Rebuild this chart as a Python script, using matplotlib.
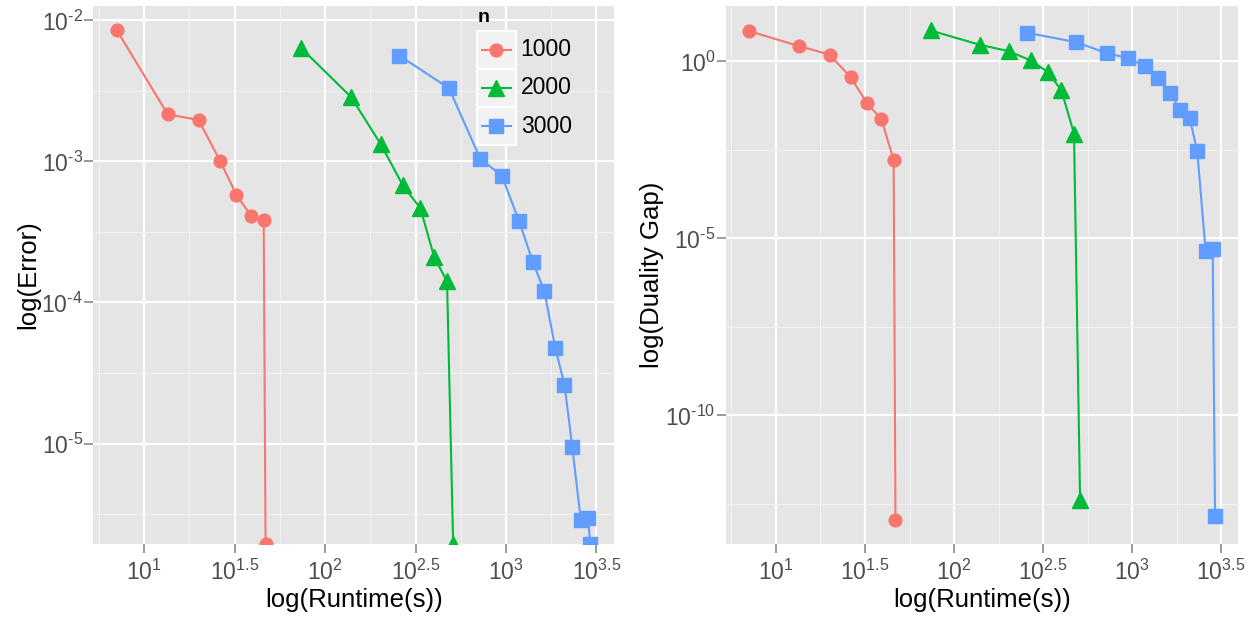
import numpy as np
import matplotlib
matplotlib.use('Agg')
import matplotlib.pyplot as plt
from matplotlib.ticker import FixedLocator, FixedFormatter, NullFormatter
from matplotlib.lines import Line2D
from matplotlib.patches import Rectangle

plt.rcParams['font.family'] = ['Liberation Sans', 'DejaVu Sans']
plt.rcParams['mathtext.fontset'] = 'custom'
plt.rcParams['mathtext.rm'] = 'Liberation Sans'
plt.rcParams['mathtext.it'] = 'Liberation Sans:italic'
plt.rcParams['mathtext.bf'] = 'Liberation Sans:bold'

# ---------------- data ----------------
groups = ['1000', '2000', '3000']

runtime_1000 = [7.08, 13.5, 20.0, 26.3, 32.4, 39.1, 45.8, 46.9]
runtime_2000 = [73.8, 139.3, 202.8, 269.2, 336.5, 400.9, 472.1, 510.5]
runtime_3000 = [257, 484, 721, 948, 1180, 1406, 1629, 1871, 2104, 2323, 2588, 2838, 2924]

# error 0 -> log(-Inf), drawn at the panel edge (as ggplot does)
error_1000 = [8.49e-3, 2.16e-3, 1.97e-3, 1.007e-3, 5.79e-4, 4.09e-4, 3.83e-4, 0.0]
error_2000 = [6.37e-3, 2.86e-3, 1.33e-3, 6.76e-4, 4.65e-4, 2.10e-4, 1.41e-4, 0.0]
error_3000 = [5.64e-3, 3.30e-3, 1.045e-3, 7.91e-4, 3.79e-4, 1.94e-4, 1.20e-4,
              4.78e-5, 2.62e-5, 9.48e-6, 2.89e-6, 2.95e-6, 0.0]

gap_1000 = [7.14, 2.70, 1.55, 0.354, 0.0667, 0.0232, 1.65e-3, 1.15e-13]
gap_2000 = [7.48, 2.95, 1.95, 1.07, 0.50, 0.152, 9.14e-3, 4.17e-13]
gap_3000 = [6.44, 3.50, 1.71, 1.24, 0.738, 0.339, 0.128, 0.0434, 0.0253,
            2.96e-3, 4.50e-6, 4.90e-6, 1.48e-13]

x_tick_exps = [1, 1.5, 2, 2.5, 3, 3.5]
err_tick_exps = [-2, -3, -4, -5]
gap_tick_exps = [0, -5, -10]

x_title = 'log(Runtime(s))'
err_title = 'log(Error)'
gap_title = 'log(Duality Gap)'
legend_title = 'n'

# ---------------- style ----------------
colors = ['#F8766D', '#00BA38', '#619CFF']
markers = ['o', '^', 's']
msizes = [9.2, 11.0, 9.8]

runtimes = [runtime_1000, runtime_2000, runtime_3000]
errors = [error_1000, error_2000, error_3000]
gaps = [gap_1000, gap_2000, gap_3000]

W, H = 1252, 619
fig = plt.figure(figsize=(W / 100, H / 100), dpi=100)
fig.patch.set_facecolor('white')


def px_box(x0, y0, x1, y1):
    return [x0 / W, 1 - y1 / H, (x1 - x0) / W, (y1 - y0) / H]


def gg_limits(vals):
    lv = np.log10([v for v in vals if v > 0])
    lo, hi = lv.min(), lv.max()
    pad = 0.05 * (hi - lo)
    return lo - pad, hi + pad


def fmt(e):
    s = '%g' % e
    if s.startswith('-'):
        s = r'\text{-}' + s[1:]
    return r'$\mathregular{10^{%s}}$' % s


def style_axes(ax, xlim, ylim, xt, yt, xminor, yminor, ylabel):
    ax.set_xscale('log')
    ax.set_yscale('log')
    ax.set_xlim(10 ** xlim[0], 10 ** xlim[1])
    ax.set_ylim(10 ** ylim[0], 10 ** ylim[1])
    ax.set_facecolor('#E5E5E5')
    for s in ax.spines.values():
        s.set_visible(False)
    ax.xaxis.set_major_locator(FixedLocator([10 ** e for e in xt]))
    ax.xaxis.set_major_formatter(FixedFormatter([fmt(e) for e in xt]))
    ax.yaxis.set_major_locator(FixedLocator([10 ** e for e in yt]))
    ax.yaxis.set_major_formatter(FixedFormatter([fmt(e) for e in yt]))
    ax.xaxis.set_minor_locator(FixedLocator([10 ** e for e in xminor]))
    ax.yaxis.set_minor_locator(FixedLocator([10 ** e for e in yminor]))
    ax.xaxis.set_minor_formatter(NullFormatter())
    ax.yaxis.set_minor_formatter(NullFormatter())
    ax.tick_params(which='minor', length=0)
    ax.tick_params(which='major', length=6.5, width=1.1, color='#7F7F7F',
                   labelsize=16.5, labelcolor='#4D4D4D')
    ax.tick_params(axis='x', which='major', pad=5)
    ax.tick_params(axis='y', which='major', pad=1)
    ax.grid(which='major', color='white', lw=1.6)
    ax.grid(which='minor', color='#F2F2F2', lw=0.8)
    ax.set_axisbelow(True)
    ax.set_xlabel(x_title, fontsize=18.5, labelpad=2)
    ax.set_ylabel(ylabel, fontsize=18.5, labelpad=1)


def draw(ax, ylist, ylim):
    edge = 10 ** ylim[0]
    for x, y, c in zip(runtimes, ylist, colors):
        y = np.asarray(y, float)
        yp = np.where(y > 0, y, edge)
        ax.plot(x, yp, color=c, lw=1.5, zorder=3)
    for x, y, c, m, ms in zip(runtimes, ylist, colors, markers, msizes):
        y = np.asarray(y, float)
        yp = np.where(y > 0, y, edge)
        ax.plot(x, yp, ls='none', marker=m, ms=ms, color=c, mec=c, zorder=4)


all_x = sum(runtimes, [])
xlim = gg_limits(all_x)
xminor = [e for e in np.arange(0.25, 4.0, 0.5) if xlim[0] <= e <= xlim[1]]

ax1 = fig.add_axes(px_box(93.3, 6, 614, 544))
ylim1 = gg_limits(sum(errors, []))
yminor1 = [e for e in np.arange(-7.5, 0, 1.0) if ylim1[0] <= e <= ylim1[1]]
style_axes(ax1, xlim, ylim1, x_tick_exps, err_tick_exps, xminor, yminor1, err_title)
draw(ax1, errors, ylim1)

ax2 = fig.add_axes(px_box(726, 6, 1238.3, 544))
ylim2 = gg_limits(sum(gaps, []))
yminor2 = [e for e in np.arange(-17.5, 5, 5.0) if ylim2[0] <= e <= ylim2[1]]
style_axes(ax2, xlim, ylim2, x_tick_exps, gap_tick_exps, xminor, yminor2, gap_title)
draw(ax2, gaps, ylim2)

# ---------------- legend (inside left panel) ----------------
def fx(x):
    return x / W


def fy(y):
    return 1 - y / H


key_x0, key_x1 = 476.7, 515.7
row_top = 31.0
row_h = 38.0
fig.text(fx(478), fy(17.5), legend_title, fontsize=14, fontweight='bold',
         ha='left', va='center', color='black')
for i, (g, c, m, ms) in enumerate(zip(groups, colors, markers, msizes)):
    y0 = row_top + i * row_h
    yc = y0 + row_h / 2
    fig.add_artist(Rectangle((fx(key_x0), fy(y0 + row_h)), (key_x1 - key_x0) / W, row_h / H,
                             transform=fig.transFigure, facecolor='#F2F2F2',
                             edgecolor='white', lw=1.5, zorder=5))
    fig.add_artist(Line2D([fx(481.7), fx(510.7)], [fy(yc), fy(yc)], transform=fig.transFigure,
                          color=c, lw=1.5, zorder=6))
    fig.add_artist(Line2D([fx((key_x0 + key_x1) / 2)], [fy(yc)], transform=fig.transFigure,
                          ls='none', marker=m, ms=ms, color=c, mec=c, zorder=7))
    fig.text(fx(520.7), fy(yc), g, fontsize=16.5, ha='left', va='center',
             color='black', zorder=7)

fig.savefig('out.png', dpi=100, facecolor='white')
